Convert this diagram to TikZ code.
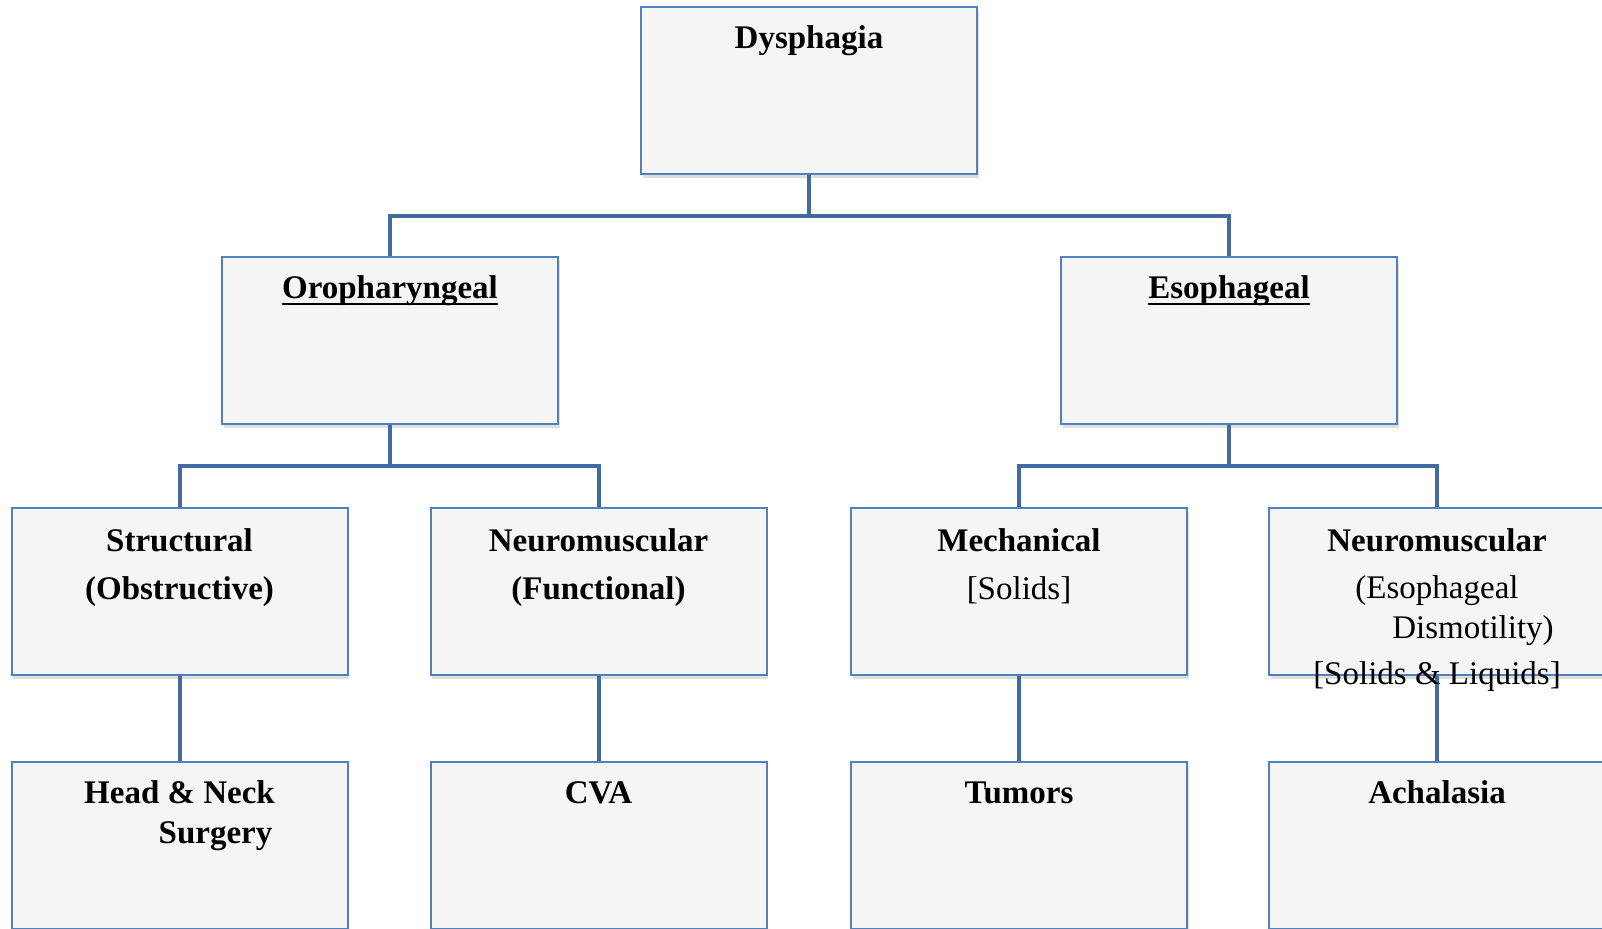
\documentclass[tikz,border=0pt]{standalone}
\usepackage{fontspec}
\setmainfont{Liberation Serif}
\usetikzlibrary{positioning,calc,shadows}
\definecolor{boxblue}{RGB}{79,129,189}
\definecolor{linkblue}{RGB}{66,107,162}
\definecolor{boxgray}{RGB}{245,245,245}
\newcommand{\ulword}[1]{\setbox0\hbox{#1}\rlap{\rule[-3pt]{\wd0}{1pt}}\box0}

\begin{document}
\begin{tikzpicture}[x=0.5pt,y=-0.5pt,
   box/.style={draw=boxblue, line width=1pt, fill=boxgray, minimum width=168pt,
      minimum height=83.5pt, inner sep=0pt,
      drop shadow={shadow xshift=.8pt, shadow yshift=-1.8pt, opacity=.25}},
   conn/.style={draw=linkblue, line width=2pt},
   txt/.style={inner sep=0pt, align=center, font=\fontsize{16.5}{20}\selectfont}]
   \useasboundingbox (0,0) rectangle (1602,929);
   \clip (0,0) rectangle (1602,929);

   \node[box] (dys) at (809,90.5) {};
   \node[box] (oro) at (390,341) {};
   \node[box] (eso) at (1229,341) {};
   \node[box] (str) at (179.5,591.5) {};
   \node[box] (nfun) at (598.5,591.5) {};
   \node[box] (mech) at (1019,591.5) {};
   \node[box] (nesp) at (1437,591.5) {};
   \node[box] (hns) at (179.5,845.5) {};
   \node[box] (cva) at (598.5,845.5) {};
   \node[box] (tum) at (1019,845.5) {};
   \node[box] (ach) at (1437,845.5) {};

   \coordinate (bus1) at ($(dys.south)!.5!(dys.south |- oro.north)$);
   \coordinate (bus2) at ($(oro.south)!.5!(oro.south |- str.north)$);
   \coordinate (bus3) at ($(eso.south)!.5!(eso.south |- mech.north)$);
   \draw[conn] (dys.south) -- (bus1) -| (oro.north);
   \draw[conn] (bus1) -| (eso.north);
   \draw[conn] (oro.south) -- (bus2) -| (str.north);
   \draw[conn] (bus2) -| (nfun.north);
   \draw[conn] (eso.south) -- (bus3) -| (mech.north);
   \draw[conn] (bus3) -| (nesp.north);
   \draw[conn] (str.south) -- (hns.north);
   \draw[conn] (nfun.south) -- (cva.north);
   \draw[conn] (mech.south) -- (tum.north);
   \draw[conn] (nesp.south) -- (ach.north);

   \node[txt, below=7pt of dys.north] (dyst) {\strut\textbf{Dysphagia}};
   \node[txt, below=7pt of oro.north] (orot) {\strut\ulword{\textbf{Oropharyngeal}}};
   \node[txt, below=7pt of eso.north] (esot) {\strut\ulword{\textbf{Esophageal}}};
   \node[txt, below=8pt of str.north] (strt) {\strut\textbf{Structural}\\[4pt]\textbf{(Obstructive)}};
   \node[txt, below=8pt of nfun.north] (nfunt) {\strut\textbf{Neuromuscular}\\[4pt]\textbf{(Functional)}};
   \node[txt, below=8pt of mech.north] (mecht) {\strut\textbf{Mechanical}\\[4pt][Solids]};
   \node[txt, below=8pt of nesp.north] (nespt) {\strut\textbf{Neuromuscular}\\[3.5pt](Esophageal\\\hspace*{36pt}Dismotility)\\[3pt][Solids \& Liquids]};
   \node[txt, below=7pt of hns.north] (hnst) {\strut\textbf{Head \& Neck}\\\hspace*{36pt}\textbf{Surgery}};
   \node[txt, below=7pt of cva.north] (cvat) {\strut\textbf{CVA}};
   \node[txt, below=7pt of tum.north] (tumt) {\strut\textbf{Tumors}};
   \node[txt, below=7pt of ach.north] (acht) {\strut\textbf{Achalasia}};
\end{tikzpicture}
\end{document}
